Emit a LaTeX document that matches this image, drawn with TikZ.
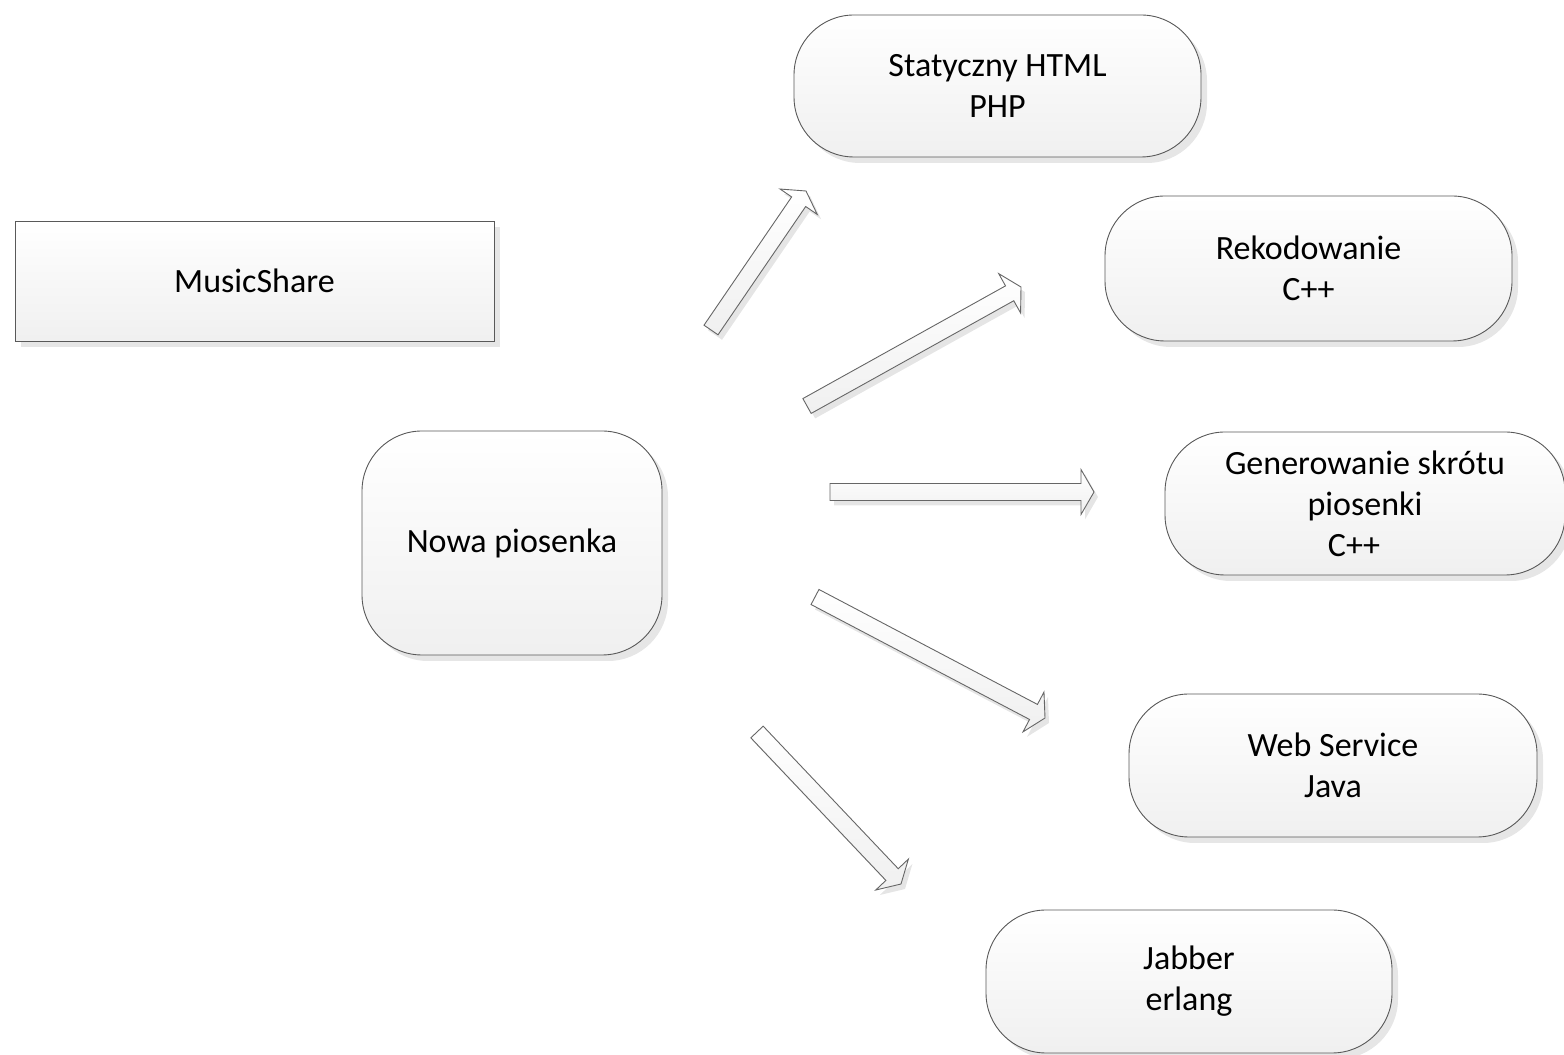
\documentclass[tikz,border=0pt]{standalone}
\usepackage{fontspec}
\setmainfont{Carlito}
\usetikzlibrary{calc,shadows}

\tikzset{
  box/.style={draw=black!65, line width=0.9pt, top color=white, bottom color=black!6,
    align=center, inner sep=0pt,
    font=\fontsize{34}{41}\selectfont,
    drop shadow={shadow xshift=6pt, shadow yshift=-6pt, fill=black!14, opacity=0.7}},
  plainbox/.style={box, rectangle},
  roundbox/.style={box, rounded corners=60pt},
  arrowbody/.style={draw=black!60, line width=0.9pt, top color=white, bottom color=black!6},
  arrowshade/.style={fill=black!10, transform canvas={shift={(4pt,-5pt)}}}
}

% block arrow from tail coordinate #1 to tip coordinate #2
\newcommand\blockarrow[2]{%
  \coordinate (hb) at ($(#2)!13pt!(#1)$);
  \foreach \st in {arrowshade,arrowbody}{%
    \path[\st] ($(#1)!8.5pt!90:(#2)$) -- ($(hb)!8.5pt!90:(#2)$) -- ($(hb)!22.5pt!90:(#2)$)
      -- (#2) -- ($(hb)!22.5pt!-90:(#2)$) -- ($(hb)!8.5pt!-90:(#2)$)
      -- ($(#1)!8.5pt!-90:(#2)$) -- cycle;
  }%
}

\begin{document}
\begin{tikzpicture}[x=1pt,y=1pt]
  \useasboundingbox (0,0) rectangle (1564,1055);

  \node[plainbox, minimum width=479pt, minimum height=120pt] (ms) at (254.5,774) {MusicShare};
  \node[roundbox, minimum width=300pt, minimum height=224pt] (nowa) at (512,512) {Nowa piosenka};

  \node[roundbox, minimum width=407pt, minimum height=142pt] (html) at (997.5,969) {Statyczny HTML\\PHP};
  \node[roundbox, minimum width=407pt, minimum height=145pt] (rek) at (1308.5,786.5) {Rekodowanie\\C++};
  \node[roundbox, minimum width=400pt, minimum height=143pt] (gen) at (1365,551.5) {Generowanie skrótu\\piosenki\\C++\hspace*{22pt}};
  \node[roundbox, minimum width=408pt, minimum height=143pt] (ws) at (1333,289.5) {Web Service\\Java};
  \node[roundbox, minimum width=406pt, minimum height=143pt] (jab) at (1189,73.5) {Jabber\\erlang};

  % arrow ends
  \coordinate (t1) at (711,725);  \coordinate (h1) at (806,864);
  \coordinate (t2) at (807,649);  \coordinate (h2) at (1021,768);
  \coordinate (t3) at (830,563);  \coordinate (h3) at (1094,563);
  \coordinate (t4) at (815,458);  \coordinate (h4) at (1045,337);
  \coordinate (t5) at (757,323);  \coordinate (h5) at (901,171);

  \blockarrow{t1}{h1}
  \blockarrow{t2}{h2}
  \blockarrow{t3}{h3}
  \blockarrow{t4}{h4}
  \blockarrow{t5}{h5}
\end{tikzpicture}
\end{document}
